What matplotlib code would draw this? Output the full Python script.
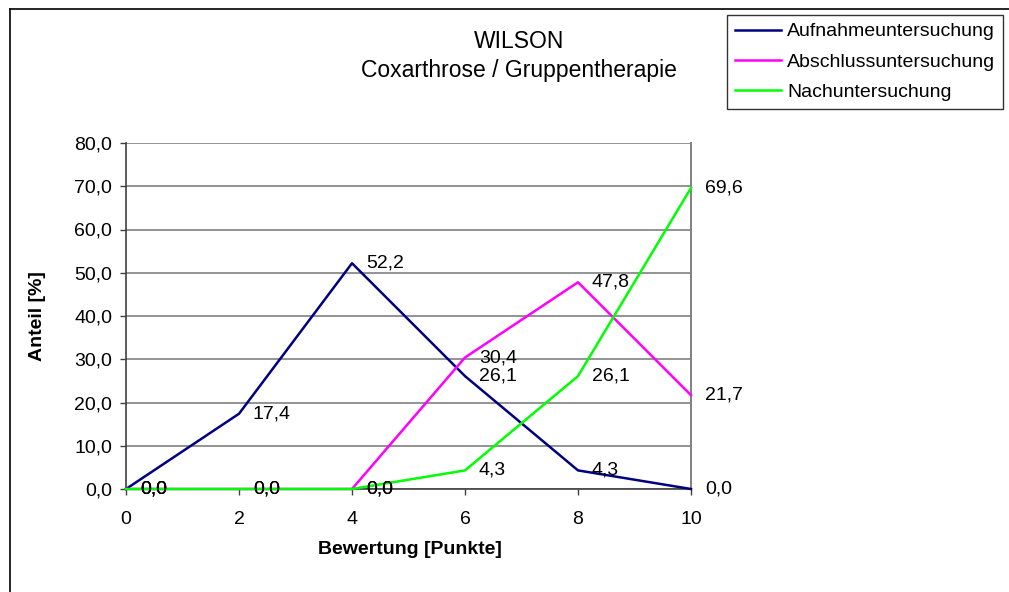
import matplotlib
matplotlib.use('Agg')

import matplotlib.pyplot as plt
from matplotlib.lines import Line2D
from matplotlib.ticker import FuncFormatter, MultipleLocator

# punkte on the x axis, anteil in percent per examination
punkte = [0, 2, 4, 6, 8, 10]
aufnahme = [0.0, 17.4, 52.2, 26.1, 4.3, 0.0]
abschluss = [0.0, 0.0, 0.0, 30.4, 47.8, 21.7]
nachunters = [0.0, 0.0, 0.0, 4.3, 26.1, 69.6]

series_names = ["Aufnahmeuntersuchung", "Abschlussuntersuchung", "Nachuntersuchung"]
series_colors = ["#000080", "#ff00ff", "#00ff00"]

FS = 14
plt.rcParams['font.family'] = ['Liberation Sans', 'DejaVu Sans']
plt.rcParams['font.size'] = FS

fig = plt.figure(figsize=(10.09, 5.92), dpi=100)
ax = fig.add_axes([126 / 1009, 1 - 489 / 592, 565 / 1009, 346 / 592])


def komma(v, pos=None):
    return ("%.1f" % v).replace('.', ',')


for name, vals, col in zip(series_names, [aufnahme, abschluss, nachunters], series_colors):
    ax.plot(punkte, vals, color=col, lw=1.8, label=name, zorder=3, clip_on=False)

# value labels to the right of each point
for vals in [aufnahme, abschluss, nachunters]:
    for x, y in zip(punkte, vals):
        ax.annotate(komma(y), (x, y), xytext=(10, 0), textcoords='offset points',
                    va='center', ha='left', fontsize=FS, zorder=4,
                    annotation_clip=False)

ax.set_xlim(0, 10)
ax.set_ylim(0, 80)
ax.xaxis.set_major_locator(MultipleLocator(2))
ax.yaxis.set_major_locator(MultipleLocator(10))
ax.yaxis.set_major_formatter(FuncFormatter(komma))

ax.grid(axis='y', color='#808080', lw=1.2, zorder=1)
ax.tick_params(axis='both', direction='out', length=4, width=1, color='#404040', pad=6)
ax.tick_params(axis='x', pad=12)

ax.spines['top'].set_visible(False)
ax.spines['right'].set_color('#808080')
ax.spines['right'].set_linewidth(1.4)
ax.spines['left'].set_color('#404040')
ax.spines['left'].set_linewidth(1.2)
ax.spines['bottom'].set_color('#404040')
ax.spines['bottom'].set_linewidth(1.2)

fig.text(38 / 1009, 1 - 316 / 592, "Anteil [%]", rotation=90, ha='center', va='center',
         fontsize=FS, fontweight='bold')
fig.text(410 / 1009, 1 - 550 / 592, "Bewertung [Punkte]", ha='center', va='center',
         fontsize=FS, fontweight='bold')

fig.text(519 / 1009, 1 - 42 / 592, "WILSON", ha='center', va='center', fontsize=16.5)
fig.text(519 / 1009, 1 - 71 / 592, "Coxarthrose / Gruppentherapie", ha='center', va='center',
         fontsize=16.5)

leg = fig.legend(loc='upper left', bbox_to_anchor=(727 / 1009, 1 - 15 / 592),
                 frameon=True, fancybox=False, edgecolor='black', fontsize=FS,
                 handlelength=2.4, handletextpad=0.3, labelspacing=0.65,
                 borderpad=0.4, borderaxespad=0)
leg.get_frame().set_linewidth(1.0)

# outer chart border (only top and left edge fall inside the image)
fig.add_artist(Line2D([10 / 1009, 10 / 1009], [0, 1 - 9 / 592], color='black', lw=1.2,
                      transform=fig.transFigure))
fig.add_artist(Line2D([10 / 1009, 1], [1 - 9 / 592, 1 - 9 / 592], color='black', lw=1.2,
                      transform=fig.transFigure))

plt.savefig('out.png', dpi=100)
